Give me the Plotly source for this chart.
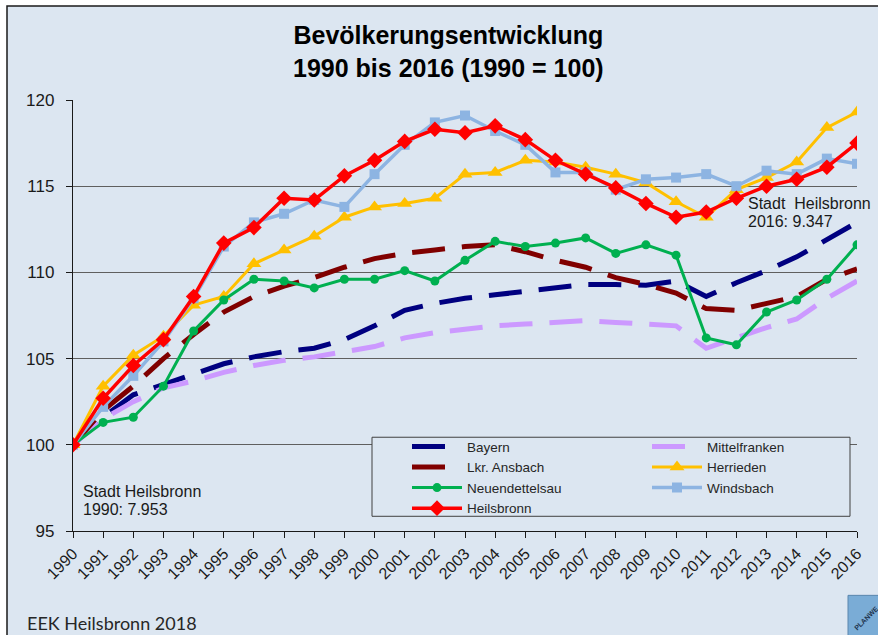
import plotly.graph_objects as go

years = list(range(1990, 2017))
year_labels = [str(y) for y in years]

bayern = [100, 101.6, 102.9, 103.5, 104.1, 104.7, 105.1, 105.4, 105.6, 106.1, 106.9, 107.8, 108.2, 108.5,
          108.7, 108.9, 109.1, 109.3, 109.3, 109.25, 109.5, 108.6, 109.4, 110.1, 110.9, 111.9, 112.9]
mittelfranken = [100, 101.5, 102.5, 103.3, 103.7, 104.2, 104.6, 104.9, 105.1, 105.4, 105.7, 106.2, 106.5, 106.7,
                 106.9, 107.0, 107.1, 107.2, 107.1, 107.0, 106.9, 105.6, 106.2, 106.8, 107.3, 108.5, 109.5]
ansbach = [100, 102.0, 103.4, 105.0, 106.4, 107.7, 108.6, 109.2, 109.7, 110.3, 110.8, 111.1, 111.3, 111.5,
           111.6, 111.2, 110.7, 110.3, 109.7, 109.3, 108.8, 107.9, 107.8, 108.2, 108.6, 109.6, 110.2]
herrieden = [100, 103.4, 105.2, 106.3, 108.1, 108.6, 110.5, 111.3, 112.1, 113.2, 113.8, 114.0, 114.3, 115.7,
             115.8, 116.5, 116.4, 116.1, 115.7, 115.2, 114.1, 113.2, 114.8, 115.5, 116.4, 118.4, 119.3]
neuendettelsau = [100, 101.3, 101.6, 103.4, 106.6, 108.4, 109.6, 109.5, 109.1, 109.6, 109.6, 110.1, 109.5, 110.7,
                  111.8, 111.5, 111.7, 112.0, 111.1, 111.6, 111.0, 106.2, 105.8, 107.7, 108.4, 109.6, 111.6]
windsbach = [100, 102.2, 104.0, 106.0, 108.5, 111.5, 112.9, 113.4, 114.2, 113.8, 115.7, 117.4, 118.7, 119.1,
             118.2, 117.4, 115.8, 115.8, 114.8, 115.4, 115.5, 115.7, 115.0, 115.9, 115.7, 116.6, 116.3]
heilsbronn = [100, 102.7, 104.6, 106.1, 108.6, 111.7, 112.6, 114.3, 114.2, 115.6, 116.5, 117.6, 118.3, 118.1,
              118.5, 117.7, 116.5, 115.7, 114.9, 114.0, 113.2, 113.5, 114.3, 115.0, 115.4, 116.1, 117.5]

title_lines = ["Bevölkerungsentwicklung", "1990 bis 2016 (1990 = 100)"]
note_1990 = ["Stadt Heilsbronn", "1990: 7.953"]
note_2016 = ["Stadt  Heilsbronn", "2016: 9.347"]
footer = "EEK Heilsbronn 2018"

W, H = 878, 635
L, R, T, B = 73, 857, 100, 530.7
BG = "#dce6f1"
FONT = "Liberation Sans, Arial, sans-serif"
DASH = "33px,17px"


def px(x):
    return (x - L) / (R - L)


def py(y):
    return (B - y) / (B - T)


fig = go.Figure()

series = [
    ("Bayern", bayern, dict(color="#000080", width=5, dash=DASH), None, "legend"),
    ("Mittelfranken", mittelfranken, dict(color="#cc99ff", width=5, dash=DASH), None, "legend2"),
    ("Lkr. Ansbach", ansbach, dict(color="#800000", width=5, dash=DASH), None, "legend"),
    ("Herrieden", herrieden, dict(color="#ffc000", width=3), dict(symbol="triangle-up", size=13), "legend2"),
    ("Neuendettelsau", neuendettelsau, dict(color="#00b050", width=3), dict(symbol="circle", size=9), "legend"),
    ("Windsbach", windsbach, dict(color="#8db4e2", width=3.5), dict(symbol="square", size=10), "legend2"),
    ("Heilsbronn", heilsbronn, dict(color="#ff0000", width=3.5), dict(symbol="diamond", size=12), "legend"),
]

for name, vals, line, marker, leg in series:
    mode = "lines+markers" if marker else "lines"
    kw = dict(x=years, y=vals, name=name, mode=mode, line=line, legend=leg)
    if marker:
        kw["marker"] = dict(color=line["color"], **marker)
    fig.add_trace(go.Scatter(**kw))

shapes = [
    # outer frame
    dict(type="rect", xref="paper", yref="paper", x0=px(7), x1=px(900), y0=py(660), y1=py(6),
         fillcolor=BG, line=dict(color="#1a1a1a", width=1.5), layer="below"),
    # legend box
    dict(type="rect", xref="paper", yref="paper", x0=px(372), x1=px(850), y0=py(516), y1=py(437),
         fillcolor=BG, line=dict(color="#404040", width=1), layer="above"),
    # logo
    dict(type="rect", xref="paper", yref="paper", x0=px(848), x1=px(900), y0=py(660), y1=py(595),
         fillcolor="#7aacd6", line=dict(color="#5a86ad", width=1), layer="above"),
]

annotations = [
    dict(text="<b>" + "<br>".join(title_lines) + "</b>", xref="paper", yref="paper", x=px(448), y=py(19),
         xanchor="center", yanchor="top", showarrow=False, font=dict(family=FONT, size=25, color="#000000")),
    dict(text=note_1990[0], xref="paper", yref="paper", x=px(81), y=py(491), xanchor="left", yanchor="middle",
         showarrow=False, font=dict(family=FONT, size=16, color="#1a1a1a")),
    dict(text=note_1990[1], xref="paper", yref="paper", x=px(81), y=py(509.5), xanchor="left", yanchor="middle",
         showarrow=False, font=dict(family=FONT, size=16, color="#1a1a1a")),
    dict(text=note_2016[0], xref="paper", yref="paper", x=px(746), y=py(203), xanchor="left", yanchor="middle",
         showarrow=False, font=dict(family=FONT, size=16, color="#1a1a1a")),
    dict(text=note_2016[1], xref="paper", yref="paper", x=px(746), y=py(221), xanchor="left", yanchor="middle",
         showarrow=False, font=dict(family=FONT, size=16, color="#1a1a1a")),
    dict(text=footer, xref="paper", yref="paper", x=px(25), y=py(623), xanchor="left", yanchor="middle",
         showarrow=False, font=dict(family="Lato, sans-serif", size=18, color="#262626")),
    dict(text="<b>PLANWE</b>", xref="paper", yref="paper", x=px(866), y=py(618), xanchor="center",
         yanchor="middle", textangle=-45, showarrow=False, font=dict(family=FONT, size=7, color="#1f3550")),
]

legend_common = dict(
    bgcolor="rgba(0,0,0,0)", borderwidth=0, itemwidth=50, orientation="v",
    font=dict(family=FONT, size=13.5, color="#262626"), xanchor="left", yanchor="top",
    tracegroupgap=0, itemclick=False, itemdoubleclick=False,
)

fig.update_layout(
    width=W, height=H,
    margin=dict(l=L, r=W - R, t=T, b=H - B, autoexpand=False),
    paper_bgcolor="#ffffff", plot_bgcolor="rgba(0,0,0,0)",
    font=dict(family=FONT, color="#1a1a1a"),
    showlegend=True,
    legend=dict(x=px(407), y=py(431), **legend_common),
    legend2=dict(x=px(647), y=py(431), **legend_common),
    shapes=shapes,
    annotations=annotations,
    xaxis=dict(
        range=[1990, 2016], tickmode="array", tickvals=years, ticktext=year_labels, tickangle=-45,
        showgrid=False, zeroline=False, showline=True, linecolor="#1a1a1a", linewidth=1.3,
        ticks="outside", ticklen=6, tickcolor="#1a1a1a", tickwidth=1.3,
        tickfont=dict(family=FONT, size=16, color="#1a1a1a"), fixedrange=True,
    ),
    yaxis=dict(
        range=[95, 120], tickmode="linear", tick0=95, dtick=5,
        showgrid=True, gridcolor="#5f5f5f", gridwidth=1, zeroline=False,
        showline=True, linecolor="#1a1a1a", linewidth=1.3,
        ticks="outside", ticklen=6, tickcolor="#1a1a1a", tickwidth=1.3, ticklabelstandoff=8,
        tickfont=dict(family=FONT, size=17, color="#1a1a1a"), fixedrange=True,
    ),
)

fig.write_html(
    "out.html",
    config=dict(displayModeBar=False),
    post_script="document.body.style.margin='0';document.body.style.overflow='hidden';",
)
